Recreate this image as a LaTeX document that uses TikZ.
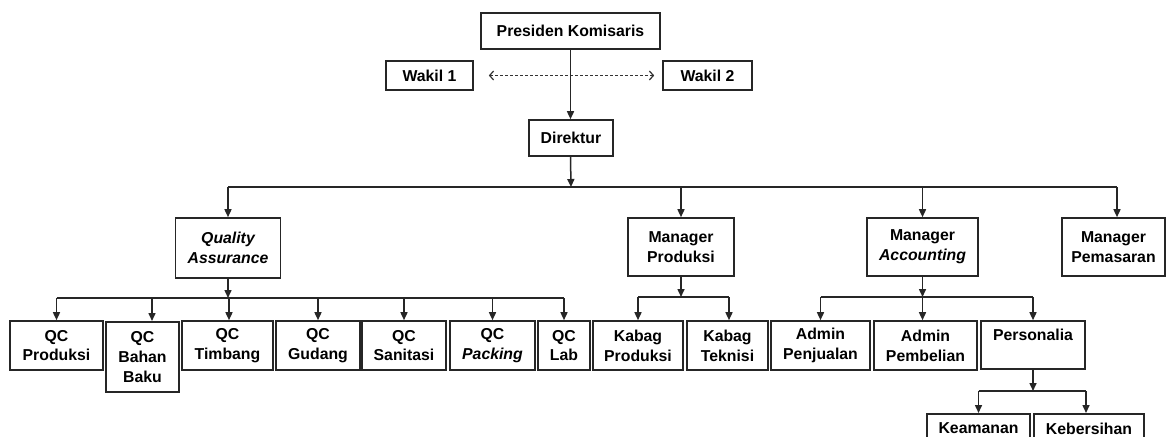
\documentclass[tikz,border=0pt]{standalone}
\usepackage{fontspec}
\setmainfont{Liberation Sans}
\usetikzlibrary{arrows.meta}
\begin{document}
\begin{tikzpicture}[x=1pt,y=-1pt,
  box/.style={draw=black!85, line width=1.6pt, align=center, inner sep=0pt,
    font=\fontsize{15.8}{19.8}\selectfont\bfseries, text=black},
  conn/.style={draw=black!85, line width=1.5pt},
  arr/.style={conn, -{Triangle[length=8pt,width=7pt]}},
  dasharr/.style={draw=black!80, line width=1.2pt, dash pattern=on 3pt off 2pt,
    {Straight Barb[length=4pt,width=9pt]}-{Straight Barb[length=4pt,width=9pt]}}]
\useasboundingbox[fill=white] (0,0) rectangle (1166,436);

% top level
\node[box, minimum width=179pt, minimum height=36pt] (pk) at (570.5,31) {Presiden Komisaris};
\node[box, minimum width=87pt, minimum height=29pt] (w1) at (429.5,75.5) {Wakil 1};
\node[box, minimum width=89pt, minimum height=29pt] (w2) at (707.5,75.5) {Wakil 2};
\node[box, minimum width=84pt, minimum height=36pt] (dir) at (571,138) {Direktur};

% managers
\node[box, minimum width=105pt, minimum height=60pt] (qa) at (228,248) {\itshape Quality\\\itshape Assurance};
\node[box, minimum width=106pt, minimum height=58pt] (mp) at (681,247) {Manager\\Produksi};
\node[box, minimum width=111pt, minimum height=58pt] (ma) at (922.5,247) {Manager\\\itshape Accounting};
\node[box, minimum width=103pt, minimum height=58pt] (mpem) at (1113.5,247) {Manager\\Pemasaran};

% QC boxes
\node[box, minimum width=93pt, minimum height=49pt] (qc1) at (56.5,345.5) {QC\\Produksi};
\node[box, minimum width=73pt, minimum height=70pt, anchor=north] (qc2) at (142.5,321) {QC\\Bahan\\Baku};
\node[box, minimum width=91pt, minimum height=49pt] (qc3) at (227.5,345.5) {QC\\Timbang};
\node[box, minimum width=84pt, minimum height=49pt] (qc4) at (318,345.5) {QC\\Gudang};
\node[box, minimum width=84pt, minimum height=49pt] (qc5) at (404,345.5) {QC\\Sanitasi};
\node[box, minimum width=85pt, minimum height=49pt] (qc6) at (492.5,345.5) {QC\\\itshape Packing};
\node[box, minimum width=52pt, minimum height=49pt] (qc7) at (564,345.5) {QC\\Lab};

% produksi children
\node[box, minimum width=90pt, minimum height=49pt] (kp) at (638,345.5) {Kabag\\Produksi};
\node[box, minimum width=81pt, minimum height=49pt] (kt) at (727.5,345.5) {Kabag\\Teknisi};

% accounting children
\node[box, minimum width=99pt, minimum height=49pt] (apj) at (820.5,345.5) {Admin\\Penjualan};
\node[box, minimum width=103pt, minimum height=49pt] (apb) at (925.5,345.5) {Admin\\Pembelian};
\node[box, minimum width=104pt, minimum height=48pt] (pers) at (1033,345) {Personalia\\\phantom{X}};

% personalia children
\node[box, minimum width=103pt, minimum height=49pt, anchor=north] (kea) at (978.5,413) {Keamanan\\\phantom{X}};
\node[box, minimum width=110pt, minimum height=49pt, anchor=north] (keb) at (1089,413) {Kebersihan\\\phantom{X}};

% bus coordinates
\coordinate (bus0) at (571,187);
\coordinate (busqa) at (228,298);
\coordinate (busmp) at (681,297);
\coordinate (busma) at (922.5,297);
\coordinate (buspe) at (1033,391);

% top connectors
\draw[dasharr] ([xshift=15pt]w1.east) -- ([xshift=-8pt]w2.west);
\draw[arr] (pk.south) -- (dir.north -| pk.south);
\draw[arr] (dir.south -| pk.south) -- (bus0);
\draw[conn] (bus0 -| qa.north) -- (1117,187);
\draw[arr] (bus0 -| qa.north) -- (qa.north);
\draw[arr] (bus0 -| mp.north) -- (mp.north);
\draw[arr] (bus0 -| ma.north) -- (ma.north);
\draw[arr] (1117,187) -- ([xshift=3.5pt]mpem.north);

% QA children
\draw[arr] (qa.south) -- (busqa);
\draw[conn] (busqa -| qc1.north) -- (busqa -| qc7.north);
\draw[arr] (busqa -| qc1.north) -- (qc1.north);
\draw[arr] ([xshift=9.5pt]busqa -| qc2.north) -- ([xshift=9.5pt]qc2.north);
\draw[arr] ([xshift=1.5pt]busqa -| qc3.north) -- ([xshift=1.5pt]qc3.north);
\draw[arr] (busqa -| qc4.north) -- (qc4.north);
\draw[arr] (busqa -| qc5.north) -- (qc5.north);
\draw[arr] (busqa -| qc6.north) -- (qc6.north);
\draw[arr] (busqa -| qc7.north) -- (qc7.north);

% MP children
\draw[arr] (mp.south) -- (busmp);
\draw[conn] (busmp -| kp.north) -- ([xshift=1.5pt]busmp -| kt.north);
\draw[arr] (busmp -| kp.north) -- (kp.north);
\draw[arr] ([xshift=1.5pt]busmp -| kt.north) -- ([xshift=1.5pt]kt.north);

% MA children
\draw[arr] (ma.south) -- (busma);
\draw[conn] (busma -| apj.north) -- (busma -| pers.north);
\draw[arr] (busma -| apj.north) -- (apj.north);
\draw[arr] (busma) -- (busma |- apb.north);
\draw[arr] (busma -| pers.north) -- (pers.north);

% Personalia children
\draw[arr] (pers.south) -- (buspe);
\draw[conn] (buspe -| kea.north) -- ([xshift=-3pt]buspe -| keb.north);
\draw[arr] (buspe -| kea.north) -- (kea.north);
\draw[arr] ([xshift=-3pt]buspe -| keb.north) -- ([xshift=-3pt]keb.north);
\end{tikzpicture}
\end{document}
